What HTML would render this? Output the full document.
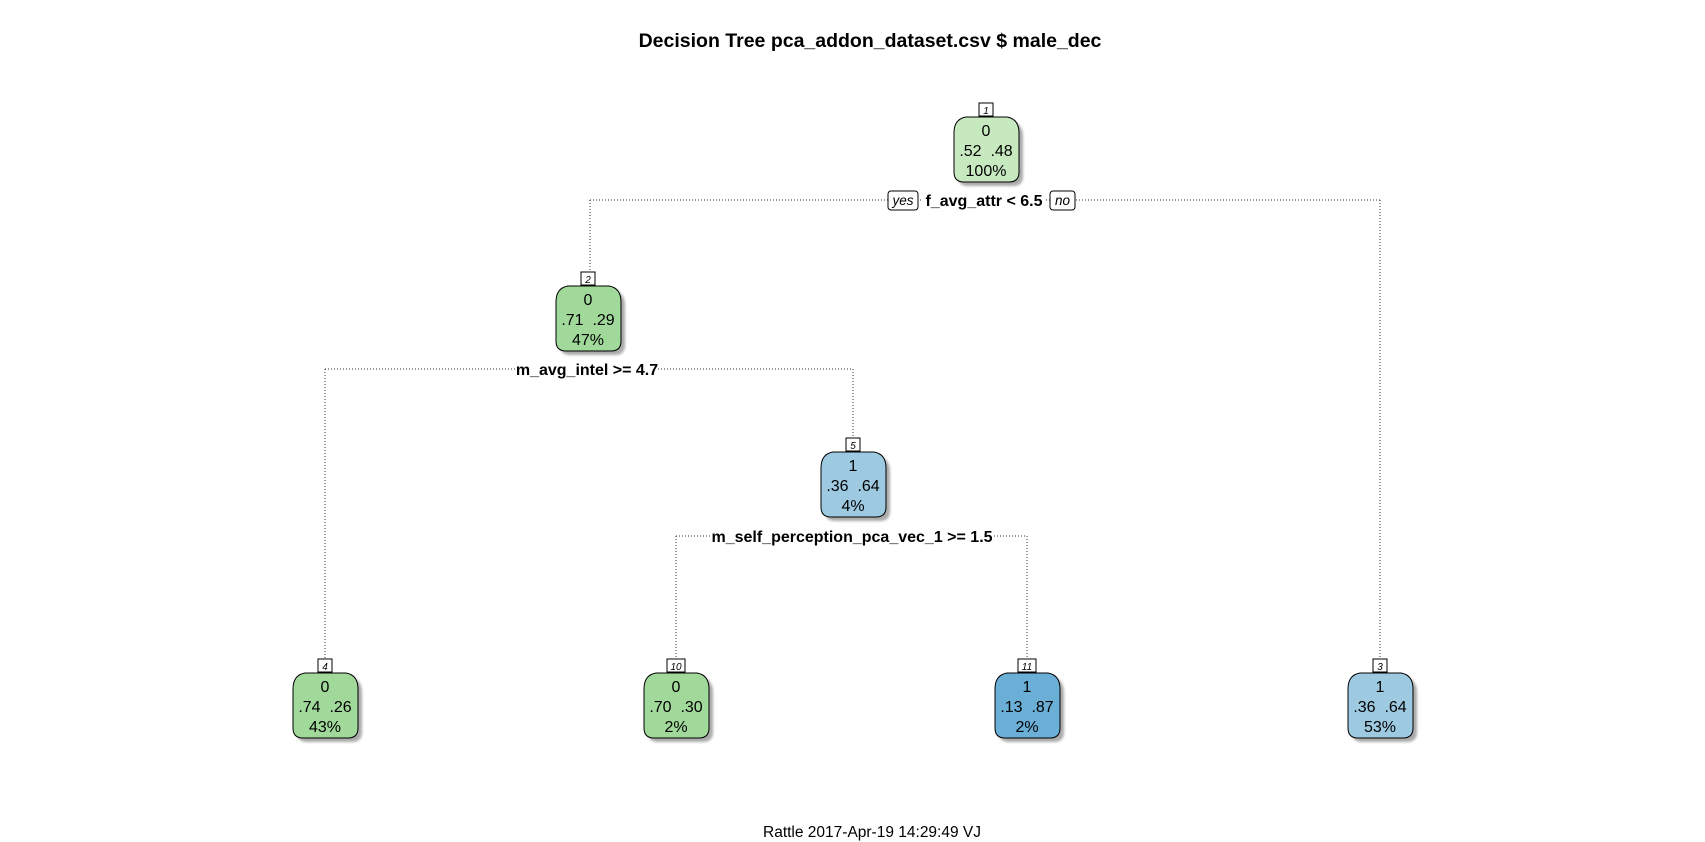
<!DOCTYPE html>
<html><head><meta charset="utf-8"><style>
html,body{margin:0;padding:0;background:#fff;}
svg{display:block;font-family:"Liberation Sans",Arial,sans-serif;}
text{white-space:pre;}
</style></head><body>
<svg width="1705" height="842" viewBox="0 0 1705 842" xmlns="http://www.w3.org/2000/svg">
<defs>
<path id="nb" d="M12,0 L53,0 Q65,2 65,16 L65,55 Q65,65 55,65 L10,65 Q0,65 0,55 L0,16 Q0,2 12,0 Z"/>
<filter id="bl" x="-20%" y="-20%" width="140%" height="140%"><feGaussianBlur stdDeviation="1.2"/></filter>
</defs>
<rect width="1705" height="842" fill="#fff"/>
<text x="870" y="47" font-size="19.5" font-weight="bold" text-anchor="middle">Decision Tree pca_addon_dataset.csv $ male_dec</text>
<text x="872" y="837" font-size="15.5" text-anchor="middle">Rattle 2017-Apr-19 14:29:49 VJ</text>

<g stroke="#333" stroke-width="1" stroke-dasharray="1,2" fill="none">
<path d="M590,200 H1380 M590,200 V272 M1380,200 V659"/>
<path d="M325,369 H853 M325,369 V659 M853,369 V438"/>
<path d="M676,536 H1027 M676,536 V659 M1027,536 V659"/>
</g>

<rect x="922" y="190" width="124" height="20" fill="#fff"/>
<text x="984" y="206" font-size="16" font-weight="bold" text-anchor="middle">f_avg_attr &lt; 6.5</text>
<rect x="888" y="191" width="30" height="19" rx="3" fill="#fff" stroke="#000"/>
<text x="903" y="205" font-size="13.5" font-style="italic" text-anchor="middle">yes</text>
<rect x="1050" y="191" width="25" height="19" rx="3" fill="#fff" stroke="#000"/>
<text x="1062.5" y="205" font-size="13.5" font-style="italic" text-anchor="middle">no</text>

<rect x="516" y="359" width="142" height="20" fill="#fff"/>
<text x="587" y="375" font-size="16" font-weight="bold" text-anchor="middle">m_avg_intel &gt;= 4.7</text>
<rect x="710" y="526" width="284" height="20" fill="#fff"/>
<text x="852" y="542" font-size="16" font-weight="bold" text-anchor="middle">m_self_perception_pca_vec_1 &gt;= 1.5</text>

<g font-size="16" text-anchor="middle">
<g transform="translate(954,117)">
<use href="#nb" transform="translate(4,4)" fill="#aaa" filter="url(#bl)"/>
<use href="#nb" fill="#c7e9c0" stroke="#000"/>
<rect x="25" y="-14" width="14" height="13" fill="#fff" stroke="#000"/>
<text x="32" y="-3" font-size="10" font-style="italic">1</text>
<text x="32" y="19">0</text><text x="32" y="39">.52  .48</text><text x="32" y="59">100%</text>
</g>
<g transform="translate(556,286)">
<use href="#nb" transform="translate(4,4)" fill="#aaa" filter="url(#bl)"/>
<use href="#nb" fill="#a1d99b" stroke="#000"/>
<rect x="25" y="-14" width="14" height="13" fill="#fff" stroke="#000"/>
<text x="32" y="-3" font-size="10" font-style="italic">2</text>
<text x="32" y="19">0</text><text x="32" y="39">.71  .29</text><text x="32" y="59">47%</text>
</g>
<g transform="translate(821,452)">
<use href="#nb" transform="translate(4,4)" fill="#aaa" filter="url(#bl)"/>
<use href="#nb" fill="#9ecae1" stroke="#000"/>
<rect x="25" y="-14" width="14" height="13" fill="#fff" stroke="#000"/>
<text x="32" y="-3" font-size="10" font-style="italic">5</text>
<text x="32" y="19">1</text><text x="32" y="39">.36  .64</text><text x="32" y="59">4%</text>
</g>
<g transform="translate(293,673)">
<use href="#nb" transform="translate(4,4)" fill="#aaa" filter="url(#bl)"/>
<use href="#nb" fill="#a1d99b" stroke="#000"/>
<rect x="25" y="-14" width="14" height="13" fill="#fff" stroke="#000"/>
<text x="32" y="-3" font-size="10" font-style="italic">4</text>
<text x="32" y="19">0</text><text x="32" y="39">.74  .26</text><text x="32" y="59">43%</text>
</g>
<g transform="translate(644,673)">
<use href="#nb" transform="translate(4,4)" fill="#aaa" filter="url(#bl)"/>
<use href="#nb" fill="#a1d99b" stroke="#000"/>
<rect x="23" y="-14" width="18" height="13" fill="#fff" stroke="#000"/>
<text x="32" y="-3" font-size="10" font-style="italic">10</text>
<text x="32" y="19">0</text><text x="32" y="39">.70  .30</text><text x="32" y="59">2%</text>
</g>
<g transform="translate(995,673)">
<use href="#nb" transform="translate(4,4)" fill="#aaa" filter="url(#bl)"/>
<use href="#nb" fill="#6baed6" stroke="#000"/>
<rect x="23" y="-14" width="18" height="13" fill="#fff" stroke="#000"/>
<text x="32" y="-3" font-size="10" font-style="italic">11</text>
<text x="32" y="19">1</text><text x="32" y="39">.13  .87</text><text x="32" y="59">2%</text>
</g>
<g transform="translate(1348,673)">
<use href="#nb" transform="translate(4,4)" fill="#aaa" filter="url(#bl)"/>
<use href="#nb" fill="#9ecae1" stroke="#000"/>
<rect x="25" y="-14" width="14" height="13" fill="#fff" stroke="#000"/>
<text x="32" y="-3" font-size="10" font-style="italic">3</text>
<text x="32" y="19">1</text><text x="32" y="39">.36  .64</text><text x="32" y="59">53%</text>
</g>
</g>
</svg>
</body></html>
